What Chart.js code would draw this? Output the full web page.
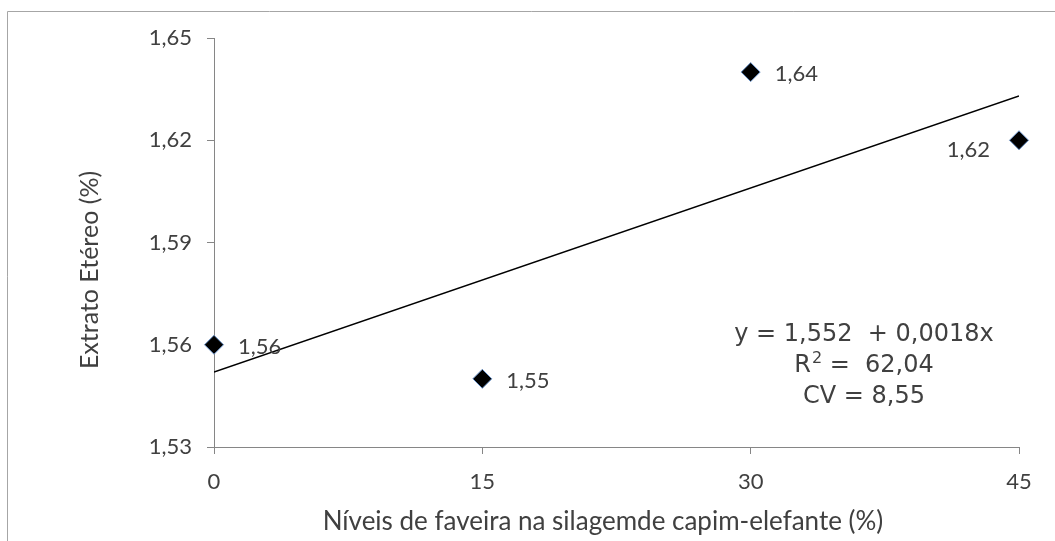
<!DOCTYPE html>
<html>
<head>
<meta charset="utf-8">
<script src="https://cdn.jsdelivr.net/npm/chart.js@4.4.0/dist/chart.umd.min.js"></script>
<style>
  html, body { margin: 0; padding: 0; background: #fff; }
  canvas { display: block; }
</style>
</head>
<body>
<canvas id="chart" width="1055" height="541"></canvas>
<script>
// data
const levels = [0, 15, 30, 45];
const extrato = [1.56, 1.55, 1.64, 1.62];
const pointLabels = ["1,56", "1,55", "1,64", "1,62"];
const yTicks = [1.53, 1.56, 1.59, 1.62, 1.65];
const xTicks = [0, 15, 30, 45];
// regression shown on the chart: y = 1,552 + 0,0018x
const intercept = 1.552;
const slope = 0.0018;
const eqLine = "y = 1,552  + 0,0018x";
const r2Text = ["R", "2", " =  62,04"];
const cvLine = "CV = 8,55";
const xTitle = "Níveis de faveira na silagemde capim-elefante (%)";
const yTitle = "Extrato Etéreo (%)";

const textColor = "#404040";
const axisColor = "#868686";

const trendX = [levels[0], levels[levels.length - 1]];
const trendPts = trendX.map(x => ({ x: x, y: intercept + slope * x }));

// frame, axis titles, point labels and equation
const decorations = {
  id: "decorations",
  beforeDraw(chart) {
    const ctx = chart.ctx;
    ctx.save();
    ctx.strokeStyle = "#a6a6a6";
    ctx.lineWidth = 1;
    ctx.beginPath();
    ctx.moveTo(7.5, chart.height);
    ctx.lineTo(7.5, 11.5);
    ctx.lineTo(chart.width, 11.5);
    ctx.stroke();
    ctx.restore();
  },
  afterDatasetsDraw(chart) {
    const ctx = chart.ctx;
    ctx.save();
    ctx.fillStyle = textColor;

    // point labels
    ctx.font = "22px Lato";
    ctx.textBaseline = "middle";
    const meta = chart.getDatasetMeta(1);
    meta.data.forEach((pt, i) => {
      if (i === meta.data.length - 1) {
        ctx.textAlign = "right";
        ctx.fillText(pointLabels[i], pt.x - 29, pt.y + 10);
      } else {
        ctx.textAlign = "left";
        ctx.fillText(pointLabels[i], pt.x + 24, pt.y + 2);
      }
    });

    // axis titles
    ctx.textAlign = "center";
    ctx.font = "26px Lato";
    ctx.fillText(xTitle, 603, 522);
    ctx.save();
    ctx.translate(90, 270);
    ctx.rotate(-Math.PI / 2);
    ctx.font = "25px Lato";
    ctx.fillText(yTitle, 0, 0);
    ctx.restore();

    // equation block
    const cx = 864;
    const big = "24px 'DejaVu Sans'";
    const small = "16px 'DejaVu Sans'";
    ctx.font = big;
    ctx.fillText(eqLine, cx, 335);
    ctx.fillText(cvLine, cx, 397);
    // R² line with a real superscript
    ctx.font = big;
    const wR = ctx.measureText(r2Text[0]).width;
    const wRest = ctx.measureText(r2Text[2]).width;
    ctx.font = small;
    const wSup = ctx.measureText(r2Text[1]).width + 1;
    let x0 = cx - (wR + wSup + wRest) / 2;
    ctx.textAlign = "left";
    ctx.font = big;
    ctx.fillText(r2Text[0], x0, 366);
    ctx.font = small;
    ctx.fillText(r2Text[1], x0 + wR + 1, 359);
    ctx.font = big;
    ctx.fillText(r2Text[2], x0 + wR + wSup, 366);
    ctx.restore();
  }
};

new Chart(document.getElementById("chart"), {
  type: "scatter",
  data: {
    datasets: [
      {
        type: "line",
        data: trendPts,
        borderColor: "#000",
        borderWidth: 1.5,
        pointRadius: 0,
        fill: false,
        order: 2
      },
      {
        data: levels.map((x, i) => ({ x: x, y: extrato[i] })),
        pointStyle: "rectRot",
        pointRadius: 9.5,
        pointHoverRadius: 9.5,
        backgroundColor: "#000",
        borderColor: "#6b93c8",
        borderWidth: 1,
        clip: false,
        order: 1
      }
    ]
  },
  options: {
    responsive: false,
    devicePixelRatio: 1,
    animation: false,
    events: [],
    layout: { padding: { left: 0, top: 38, right: 36, bottom: 0 } },
    plugins: {
      legend: { display: false },
      tooltip: { enabled: false }
    },
    scales: {
      x: {
        type: "linear",
        min: 0,
        max: 45,
        afterBuildTicks: axis => { axis.ticks = xTicks.map(v => ({ value: v })); },
        afterFit: axis => { axis.height = 94; },
        grid: { drawOnChartArea: false, drawTicks: true, tickLength: 7, color: axisColor },
        border: { color: axisColor, width: 1 },
        ticks: {
          padding: 15,
          color: textColor,
          font: { family: "Lato", size: 22 },
          maxRotation: 0,
          callback: v => String(v)
        }
      },
      y: {
        type: "linear",
        min: 1.53,
        max: 1.65,
        afterBuildTicks: axis => { axis.ticks = yTicks.map(v => ({ value: v })); },
        afterFit: axis => { axis.width = 214; },
        grid: { drawOnChartArea: false, drawTicks: true, tickLength: 7, color: axisColor },
        border: { color: axisColor, width: 1 },
        ticks: {
          padding: 15,
          color: textColor,
          font: { family: "Lato", size: 22 },
          callback: v => v.toFixed(2).replace(".", ",")
        }
      }
    }
  },
  plugins: [decorations]
});
</script>
</body>
</html>
